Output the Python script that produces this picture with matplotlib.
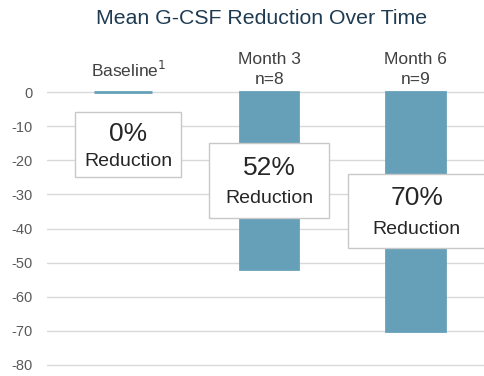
import matplotlib.pyplot as plt
from matplotlib.patches import Rectangle

# mean change in G-CSF (%) at each visit
categories = ['Baseline$^1$', 'Month 3', 'Month 6']
counts = ['', 'n=8', 'n=9']
reduction = [0, -52, -70]
box_labels = ['0%', '52%', '70%']
yticks = [0, -10, -20, -30, -40, -50, -60, -70, -80]

# callout box layout: (x centre, y top, width, height) in data units
box_layout = [(0.035, -6.0, 0.73, 19.0),
              (1.0, -15.0, 0.82, 21.8),
              (2.01, -24.0, 0.94, 21.8)]

BAR_COLOR = '#65a0b8'
TITLE_COLOR = '#1f3b52'
TEXT_COLOR = '#595959'

plt.rcParams['font.family'] = ['Liberation Sans', 'DejaVu Sans']

fig = plt.figure(figsize=(4.84, 3.76), dpi=100)
ax = fig.add_axes([0.097, 0.0202, 0.903, 0.7396])

x = list(range(len(categories)))
ax.bar(x, reduction, width=0.4, color=BAR_COLOR, edgecolor=BAR_COLOR,
       linewidth=2, zorder=2)

ax.set_xlim(-0.52, 2.47)
ax.set_ylim(-81, 0.5)
ax.set_yticks(yticks)
ax.set_yticklabels([str(v) for v in yticks])
ax.yaxis.grid(True, color='#d9d9d9', linewidth=1)
ax.set_axisbelow(True)
ax.tick_params(axis='y', length=0, labelsize=10.5, labelcolor=TEXT_COLOR, pad=10)
ax.set_xticks([])

for s in ax.spines.values():
    s.set_visible(False)

# category headers above the bars
for i, (cat, n) in enumerate(zip(categories, counts)):
    if n:
        ax.text(x[i], 9.4, cat, ha='center', va='center', fontsize=12.5,
                color='#404040', clip_on=False)
        ax.text(x[i], 3.8, n, ha='center', va='center', fontsize=12.5,
                color='#404040', clip_on=False)
    else:
        ax.text(x[i] + 0.04, 6.5, cat, ha='center', va='center', fontsize=12.5,
                color='#404040', clip_on=False)

# percentage callout boxes
for lab, (cx, top, w, h) in zip(box_labels, box_layout):
    ax.add_patch(Rectangle((cx - w / 2, top - h), w, h, facecolor='white',
                           edgecolor='#c8c8c8', linewidth=1, zorder=3,
                           clip_on=False))
    ax.text(cx, top - h * 0.33, lab, ha='center', va='center', fontsize=19,
            color='#262626', zorder=4)
    ax.text(cx, top - h * 0.75, 'Reduction', ha='center', va='center',
            fontsize=14, color='#262626', zorder=4)

fig.text(0.54, 0.952, 'Mean G-CSF Reduction Over Time', ha='center', va='center',
         fontsize=15.3, color=TITLE_COLOR)

fig.savefig('out.png', dpi=100)
